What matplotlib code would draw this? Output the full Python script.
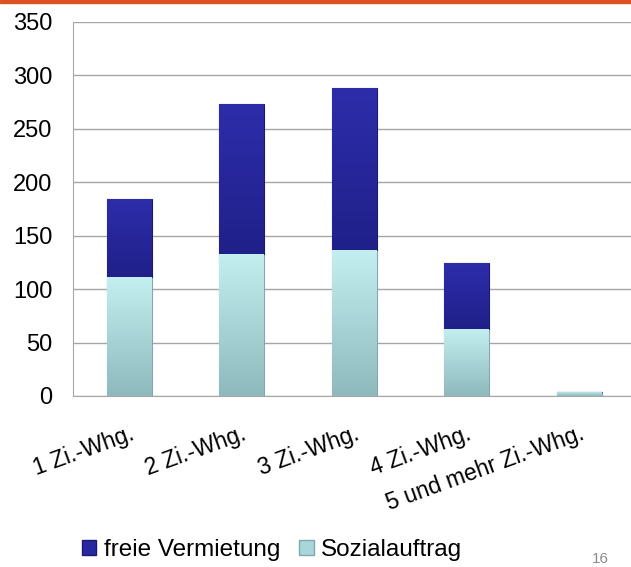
import numpy as np
import matplotlib
matplotlib.use("Agg")
import matplotlib.pyplot as plt
from matplotlib.patches import Patch, Rectangle
from matplotlib.colors import LinearSegmentedColormap

plt.rcParams["font.family"] = ["Liberation Sans", "DejaVu Sans"]

categories = ["1 Zi.-Whg.", "2 Zi.-Whg.", "3 Zi.-Whg.", "4 Zi.-Whg.", "5 und mehr Zi.-Whg."]
sozialauftrag = [111, 133, 137, 63, 4]
freie_vermietung = [73, 140, 151, 61, 0]
yticks = [0, 50, 100, 150, 200, 250, 300, 350]

fig = plt.figure(figsize=(6.31, 5.67), dpi=100)
ax = fig.add_axes([73 / 631, 1 - 396 / 567, 562.5 / 631, 374 / 567])

x = np.arange(len(categories))
w = 0.4
b1 = ax.bar(x, sozialauftrag, width=w, color="#a9d6d9", edgecolor="#7fa9ad", linewidth=0.8, zorder=3)
b2 = ax.bar(x, freie_vermietung, width=w, bottom=sozialauftrag, color="#25258f",
            edgecolor="#1a1a70", linewidth=0.8, zorder=3)

# soft vertical gradient inside each bar, clipped to the bar itself
grad = np.linspace(0, 1, 64).reshape(-1, 1)
cm_light = LinearSegmentedColormap.from_list("l", ["#8fbabd", "#c4eff1"])
cm_dark = LinearSegmentedColormap.from_list("d", ["#20208a", "#2d2daa"])
for bars, cm in [(b1, cm_light), (b2, cm_dark)]:
    for p in bars:
        if p.get_height() <= 0:
            continue
        x0, y0 = p.get_x(), p.get_y()
        im = ax.imshow(grad, cmap=cm, origin="lower", aspect="auto", zorder=3.5,
                       extent=[x0, x0 + p.get_width(), y0, y0 + p.get_height()])
        im.set_clip_path(p)

ax.set_xlim(-0.5, len(categories) - 0.5)
ax.set_ylim(0, 350)
ax.set_yticks(yticks)
ax.set_yticklabels([str(v) for v in yticks], fontsize=17)
ax.tick_params(axis="y", length=0, pad=15)
ax.tick_params(axis="x", length=0, pad=19)
ax.set_xticks(x)
ax.set_xticklabels(categories, fontsize=16.5, rotation=20, ha="right", va="top",
                   rotation_mode="anchor")
ax.grid(axis="y", color="#a6a6a6", linewidth=1, zorder=0)
for side in ["top", "right"]:
    ax.spines[side].set_visible(False)
ax.spines["left"].set_color("#a6a6a6")
ax.spines["bottom"].set_color("#a6a6a6")

handles = [Patch(facecolor="#2828a0", edgecolor="#1a1a70"),
           Patch(facecolor="#a9d6d9", edgecolor="#7fa9ad")]
fig.legend(handles, ["freie Vermietung", "Sozialauftrag"], loc="center",
           bbox_to_anchor=(272 / 631, 1 - 550 / 567), ncol=2, frameon=False,
           fontsize=17.5, handlelength=0.6, handleheight=0.6, handletextpad=0.3,
           columnspacing=0.8)

# orange line at the top of the slide
fig.add_artist(Rectangle((0, 1 - 3 / 567), 1, 3 / 567, transform=fig.transFigure,
                         color="#d9521f", zorder=5))
fig.text(600 / 631, 1 - 566 / 567, "16", fontsize=11, color="#8c8c8c", ha="center", va="bottom")

fig.savefig("out.png", dpi=100)
